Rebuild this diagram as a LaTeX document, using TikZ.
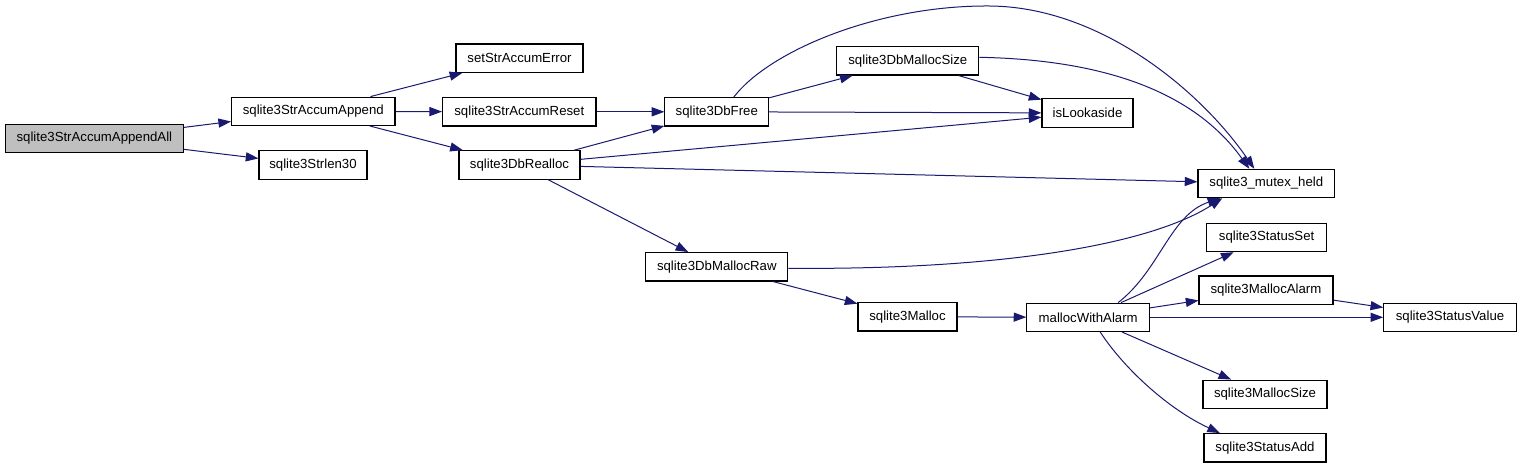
\documentclass[tikz,border=0pt]{standalone}
\usepackage{fontspec}
\setmainfont{Liberation Sans}
\usetikzlibrary{arrows.meta,calc}
\definecolor{edgeblue}{HTML}{191970}
\definecolor{rootgray}{HTML}{BFBFBF}
\tikzset{
  fnbox/.style={draw=black, line width=0.8pt, fill=white, rectangle, inner sep=0pt,
    minimum height=21.3pt, font=\fontsize{9.9}{11}\selectfont},
  rootbox/.style={fnbox, fill=rootgray},
  calledge/.style={draw=edgeblue, line width=0.75pt,
    -{Triangle[length=9.5pt,width=6.8pt]}},
}
\begin{document}
\begin{tikzpicture}[x=0.75pt,y=-0.75pt]
\useasboundingbox (0,0) rectangle (1517,468);
% nodes
\node[rootbox, minimum width=133pt]   (all)    at (94.4,138.5)  {sqlite3StrAccumAppendAll};
\node[fnbox, minimum width=122.5pt]   (app)    at (313.3,111.3) {sqlite3StrAccumAppend};
\node[fnbox, minimum width=81pt]      (strlen) at (313,165)     {sqlite3Strlen30};
\node[fnbox, minimum width=95.25pt]   (err)    at (519.5,58.2)  {setStrAccumError};
\node[fnbox, minimum width=115pt]     (reset)  at (519.3,111.8) {sqlite3StrAccumReset};
\node[fnbox, minimum width=90.75pt]   (realloc) at (519.5,164.9) {sqlite3DbRealloc};
\node[fnbox, minimum width=77.8pt]    (free)   at (716.8,111.8) {sqlite3DbFree};
\node[fnbox, minimum width=106.7pt]   (msize)  at (907.8,60.8)  {sqlite3DbMallocSize};
\node[fnbox, minimum width=68.25pt]   (look)   at (1087.5,113)  {isLookaside};
\node[fnbox, minimum width=102.5pt]   (mutex)  at (1266.3,183.5) {sqlite3\_mutex\_held};
\node[fnbox, minimum width=106.65pt]  (raw)    at (716.8,266.8) {sqlite3DbMallocRaw};
\node[fnbox, minimum width=74.25pt]   (malloc) at (907.5,316.8) {sqlite3Malloc};
\node[fnbox, minimum width=91.9pt]    (mwa)    at (1088.2,317.3) {mallocWithAlarm};
\node[fnbox, minimum width=90pt]      (sset)   at (1266.6,237.5) {sqlite3StatusSet};
\node[fnbox, minimum width=100.5pt]   (malarm) at (1266,290.2)  {sqlite3MallocAlarm};
\node[fnbox, minimum width=99.4pt]    (svalue) at (1450,317.3)  {sqlite3StatusValue};
\node[fnbox, minimum width=93pt]      (msizeM) at (1265,394.3)  {sqlite3MallocSize};
\node[fnbox, minimum width=91.5pt]    (sadd)   at (1265,447.8)  {sqlite3StatusAdd};
% straight edges
\draw[calledge] (all) -- (app);
\draw[calledge] (all) -- (strlen);
\draw[calledge] (app) -- (err);
\draw[calledge] (app) -- (reset);
\draw[calledge] (app) -- (realloc);
\draw[calledge] (reset) -- (free);
\draw[calledge] (realloc) -- (free);
\draw[calledge] (realloc) -- (look);
\draw[calledge] (realloc) -- (mutex);
\draw[calledge] (realloc) -- (raw);
\draw[calledge] (free) -- (look);
\draw[calledge] (free) -- (msize);
\draw[calledge] (msize) -- (look);
\draw[calledge] (raw) -- (malloc);
\draw[calledge] (malloc) -- (mwa);
\draw[calledge] (mwa) -- (sset);
\draw[calledge] (mwa) -- (malarm);
\draw[calledge] (mwa) -- (svalue);
\draw[calledge] (malarm) -- (svalue);
\draw[calledge] (mwa) -- (msizeM);
% curved edges
\coordinate (freeTop) at ($(free.north)+(17,0)$);
\coordinate (mutexTopA) at ($(mutex.north)+(-12,0)$);
\coordinate (mutexTopB) at ($(mutex.north)+(-17,0)$);
\coordinate (mutexBotA) at ($(mutex.south)+(-44,0)$);
\coordinate (mutexBotB) at ($(mutex.south)+(-46,0)$);
\coordinate (msizeOut) at ($(msize.east)+(0,-3.5)$);
\coordinate (rawOut) at ($(raw.east)+(0,1.5)$);
\coordinate (mwaTop) at ($(mwa.north)+(30,0)$);
\coordinate (mwaBot) at ($(mwa.south)+(12,0)$);
\coordinate (saddTop) at ($(sadd.north)+(-45,0)$);
\draw[calledge] (freeTop) .. controls (770,50) and (880,5) .. (990,6)
  .. controls (1100,7) and (1200,90) .. (mutexTopA);
\draw[calledge] (msizeOut) .. controls (1120,60) and (1200,100) .. (mutexTopB);
\draw[calledge] (rawOut) .. controls (1000,270) and (1150,245) .. (mutexBotA);
\draw[calledge] (mwaTop) .. controls (1160,270) and (1170,215) .. (mutexBotB);
\draw[calledge] (mwaBot) .. controls (1125,370) and (1170,410) .. (saddTop);
\end{tikzpicture}
\end{document}
